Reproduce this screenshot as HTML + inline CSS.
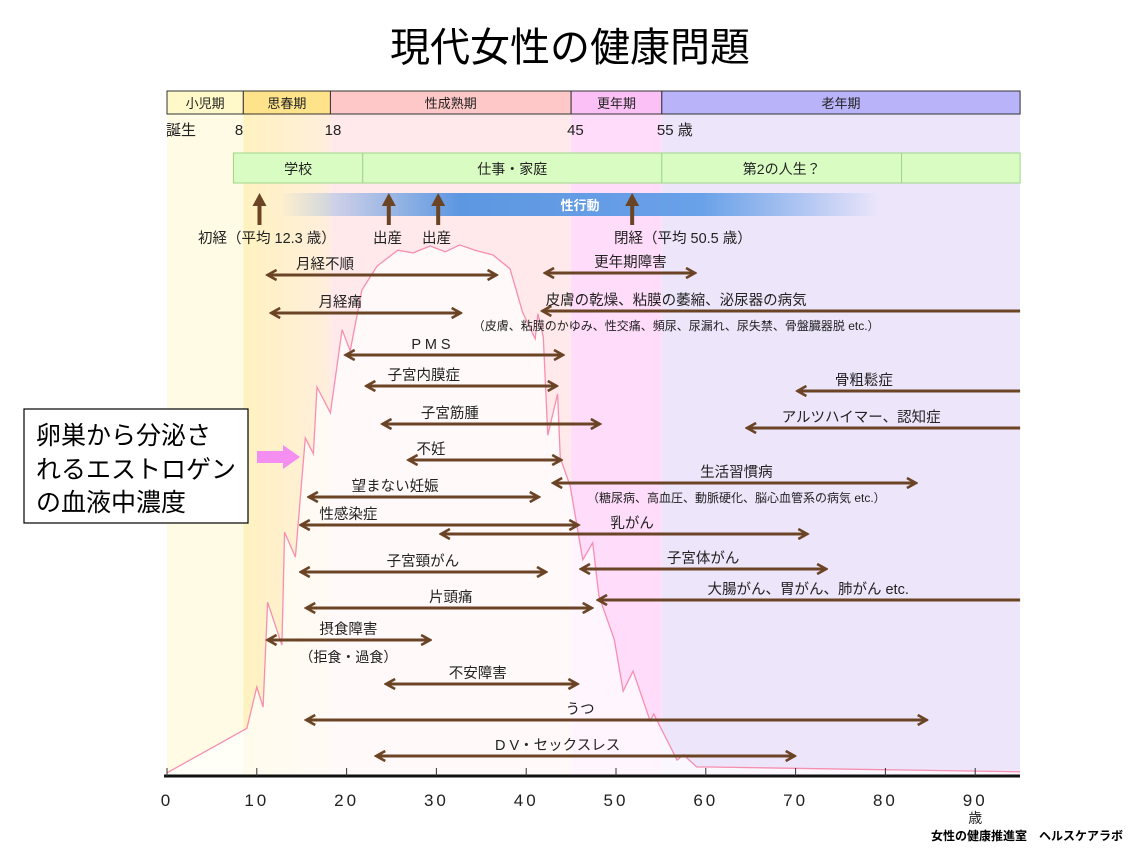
<!DOCTYPE html>
<html><head><meta charset="utf-8">
<style>
html,body{margin:0;padding:0;background:#fff;}
body{width:1133px;height:850px;overflow:hidden;position:relative;font-family:"Liberation Sans","Noto Sans CJK JP",sans-serif;}
svg text{font-family:"Liberation Sans","Noto Sans CJK JP",sans-serif;}
</style></head>
<body>
<svg id="chart" width="1133" height="850" viewBox="0 0 1133 850" xmlns="http://www.w3.org/2000/svg">
<defs>
<linearGradient id="sexg" x1="0" x2="1" y1="0" y2="0">
<stop offset="0" stop-color="#4a8ee0" stop-opacity="0"/>
<stop offset="0.3" stop-color="#4a8ee0" stop-opacity="0.9"/>
<stop offset="0.7" stop-color="#5a9ae6" stop-opacity="0.9"/>
<stop offset="1" stop-color="#4a8ee0" stop-opacity="0"/>
</linearGradient>
<linearGradient id="pubg" x1="0" x2="1" y1="0" y2="0">
<stop offset="0" stop-color="#fff2c0"/><stop offset="1" stop-color="#ffeedd"/>
</linearGradient>
<marker id="ah" viewBox="0 0 12 12" refX="10" refY="6" markerWidth="12" markerHeight="12" markerUnits="userSpaceOnUse" orient="auto-start-reverse">
<path d="M1,1 L10,6 L1,11" fill="none" stroke="#6b4426" stroke-width="2.6"/>
</marker>
</defs>
<text x="570" y="61" font-size="40" text-anchor="middle" fill="#000">現代女性の健康問題</text>
<g id="bands"></g>
<g id="stages"></g>
<g id="curve"></g>
<g id="life"></g>
<g id="arrows"></g>
<g id="axis"></g>
<g>
<rect x="24" y="409" width="224" height="114" fill="#fff" stroke="#000" stroke-width="1.2"/>
<text x="36" y="444" font-size="25" fill="#000">卵巣から分泌さ</text>
<text x="36" y="478" font-size="25" fill="#000">れるエストロゲン</text>
<text x="36" y="511" font-size="25" fill="#000">の血液中濃度</text>
</g>
<path d="M257,451 L283,451 L283,445 L300,457 L283,469 L283,463 L257,463 Z" fill="#f48ef0"/>
<text x="1123" y="840" font-size="12" text-anchor="end" fill="#000" font-weight="bold">女性の健康推進室　ヘルスケアラボ</text>
</svg>
<script>
const NS='http://www.w3.org/2000/svg';
// ---- data ----
const stageNames=['小児期','思春期','性成熟期','更年期','老年期'];
const stageStart=[0,8.5,18.2,45,55.1];
const stageEnd=[8.5,18.2,45,55.1,95];
const stageMarks=['誕生','8','18','45','55 歳'];
const stageMarkAges=[0,8,18,45,55];
const lifeNames=['学校','仕事・家庭','第2の人生？',''];
const lifeStart=[7.4,21.8,55.1,81.8];
const lifeEnd=[21.8,55.1,81.8,95];
const eventAges=[10.3,24.7,30.2,51.8];
const curveAges=[0,8.9,10.0,10.7,11.2,12.8,13.1,14.3,15.4,16.3,16.7,18.2,19.5,20.4,21.7,23.4,25.7,27.4,29.3,31,32.6,34.3,36.3,38.2,39.6,41.0,41.3,41.9,42.4,43.5,43.8,44.9,46.3,47.4,48.1,49.8,50.8,51.9,53.8,54.2,56.8,57.5,59,60.4,95];
const curveValues=[0.6,9,16.8,13,32.8,24.7,46,41.3,63.8,60.8,73.4,68.5,84.2,80.2,91.7,96.2,99.2,98.7,100,98.9,100.2,99.2,98.3,95.7,87.5,82.5,87.2,82.8,64.3,72.1,60,54.7,40.8,44,34,25.8,16,19.8,10.4,11.7,3,4,1.7,1.7,0.8];
const issueNames=['月経不順','月経痛','P M S','子宮内膜症','子宮筋腫','不妊','望まない妊娠','性感染症','乳がん','子宮頸がん','片頭痛','摂食障害','不安障害','うつ','D V・セックスレス','更年期障害','皮膚の乾燥、粘膜の萎縮、泌尿器の病気','骨粗鬆症','アルツハイマー、認知症','生活習慣病','子宮体がん','大腸がん、胃がん、肺がん etc.'];
const issueStart=[11.2,11.6,19.9,22.2,24,26.9,15.8,14.9,30.5,14.9,15.5,11.2,24.4,15.5,23.3,42.1,41.8,70.2,64.6,43,46.1,48];
const issueEnd=[36.7,32.7,44.1,43.4,48.2,43.9,41.4,45.8,71.3,42.2,47.3,29.3,45.7,84.6,69.9,58.8,95,95,95,83.4,73.4,95];
const issueBoth=[1,1,1,1,1,1,1,1,1,1,1,1,1,1,1,1,0,0,0,1,1,0];
const issueRow=[275,313,355,386,424,460,497,525,534,572,608,640,684,720,756,273,311,391,428,483,569,600];
const issueLabelAge=[17.6,19.3,29.4,28.6,31.5,29.4,25.4,20.2,51.8,28.5,31.6,20.2,34.6,46,43.5,51.6,56.7,77.6,77.3,63.4,59.7,71.4];
const issueSub=['','','','','','','','','','','','（拒食・過食）','','','','','（皮膚、粘膜のかゆみ、性交痛、頻尿、尿漏れ、尿失禁、骨盤臓器脱 etc.）','','','（糖尿病、高血圧、動脈硬化、脳心血管系の病気 etc.）','',''];
const tickValues=[0,10,20,30,40,50,60,70,80,90];
// ---- scales ----
const X0=167,PX=8.98,AXY=776,VY=5.3;
const xs=a=>X0+a*PX;
const ys=v=>AXY-v*VY;
function mk(tag,attrs,parent,txt){const e=document.createElementNS(NS,tag);for(const k in attrs)e.setAttribute(k,attrs[k]);if(txt!==undefined)e.textContent=txt;parent.appendChild(e);return e;}
const bandColors=['#fffbe4','url(#pubg)','#ffe9ea','#ffdcfa','#ede6fb'];
const stageColors=['#fff8c8','#ffe38a','#ffc8c8','#fbc0f6','#b9b4fa'];
const bands=document.getElementById('bands');
const stages=document.getElementById('stages');
stageNames.forEach((n,i)=>{
 const b=mk('rect',{x:xs(stageStart[i]),y:114,width:xs(stageEnd[i])-xs(stageStart[i]),height:AXY-114,fill:bandColors[i]},bands);
 
 
 const r=mk('rect',{x:xs(stageStart[i]),y:91,width:xs(stageEnd[i])-xs(stageStart[i]),height:23,fill:stageColors[i],stroke:'#333','stroke-width':1},stages);
 
 
 const t=mk('text',{x:(xs(stageStart[i])+xs(stageEnd[i]))/2,y:108,'font-size':13,'text-anchor':'middle',fill:'#222'},stages,n);
 
 
});
stageMarks.forEach((m,i)=>{
 const t=mk('text',{x:i==0?166:xs(stageMarkAges[i])-4,y:135,'font-size':15,fill:'#222'},stages,m);
 
 
});
// curve
const cg=document.getElementById('curve');
let d='M'+curveAges.map((a,i)=>xs(a).toFixed(1)+','+ys(curveValues[i]).toFixed(1)).join(' L');
const fillp=mk('path',{d:d+' L'+xs(95)+','+AXY+' L'+xs(0)+','+AXY+' Z',fill:'#ffffff','fill-opacity':0.7},cg);


const line=mk('path',{d:d,fill:'none',stroke:'#f78fb0','stroke-width':1.3},cg);


// life phases
const lg=document.getElementById('life');
lifeNames.forEach((n,i)=>{
 const r=mk('rect',{x:xs(lifeStart[i]),y:153,width:xs(lifeEnd[i])-xs(lifeStart[i]),height:30,fill:'#d9fcc3',stroke:'#9fd68c','stroke-width':1},lg);
 
 
 if(n){const t=mk('text',{x:(xs(lifeStart[i])+xs(lifeEnd[i]))/2,y:174,'font-size':14,'text-anchor':'middle',fill:'#222'},lg,n);
 
 }
});
const sb=mk('rect',{x:280,y:193,width:600,height:23,fill:'url(#sexg)'},lg);


const st=mk('text',{x:580,y:210,'font-size':13,'text-anchor':'middle',fill:'#fff','font-weight':'bold'},lg,'性行動');


eventAges.forEach(a=>{
 const x=xs(a);
 const p=mk('path',{d:`M${x-2},225 L${x-2},206 L${x-7},206 L${x},193 L${x+7},206 L${x+2},206 L${x+2},225 Z`,fill:'#6b4426'},lg);
 
 
});
const evLabels=[['初経（平均 12.3 歳）',198],['出産',373],['出産',422],['閉経（平均 50.5 歳）',614]];
evLabels.forEach(l=>{const t=mk('text',{x:l[1],y:243,'font-size':14.5,fill:'#222'},lg,l[0]);
 
 });
// issues
const ag=document.getElementById('arrows');
issueNames.forEach((n,i)=>{
 const y=issueRow[i];
 const l=mk('line',{x1:xs(issueStart[i]),y1:y,x2:xs(issueEnd[i]),y2:y,stroke:'#6b4426','stroke-width':3},ag);
 if(issueBoth[i]){l.setAttribute('marker-start','url(#ah)');l.setAttribute('marker-end','url(#ah)');}
 else l.setAttribute('marker-start','url(#ah)');
 
 
 const t=mk('text',{x:xs(issueLabelAge[i]),y:y-6,'font-size':14.5,'text-anchor':'middle',fill:'#222'},ag,n);
 
 
 if(issueSub[i]){const s=mk('text',{x:xs(issueLabelAge[i]),y:y+(i==11?22:19),'font-size':i==11?14:12,'text-anchor':'middle',fill:'#222'},ag,issueSub[i]);
 
 }
});
// axis
const ax=document.getElementById('axis');
const al=mk('line',{x1:164,y1:AXY,x2:1020,y2:AXY,stroke:'#111','stroke-width':3},ax);


tickValues.forEach(v=>{
 const tk=mk('line',{x1:xs(v),y1:AXY-8,x2:xs(v),y2:AXY,stroke:'#333','stroke-width':1},ax);
 
 
 const t=mk('text',{x:xs(v),y:806,'font-size':17,'text-anchor':'middle','letter-spacing':'3',fill:'#222'},ax,String(v));
 
 
});
const ut=mk('text',{x:xs(90),y:823,'font-size':14,'text-anchor':'middle',fill:'#222'},ax,'歳');


</script>
</body></html>
